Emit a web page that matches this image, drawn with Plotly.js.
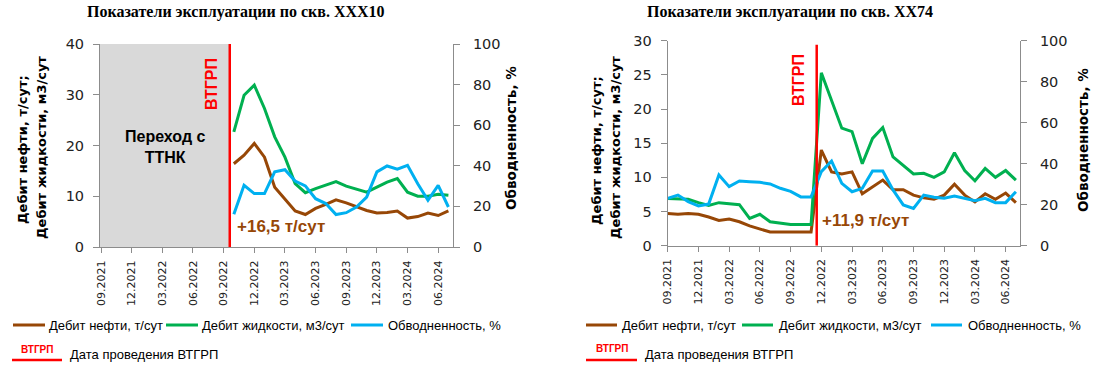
<!DOCTYPE html>
<html>
<head>
<meta charset="utf-8">
<script src="https://cdn.plot.ly/plotly-3.0.1.min.js"></script>
<style>html,body{margin:0;padding:0;background:#fff;}#chart{width:1094px;height:373px;}</style>
</head>
<body>
<div id="chart"></div>
<script>
// ---- Data ----
const months = ["09.2021","10.2021","11.2021","12.2021","01.2022","02.2022","03.2022","04.2022","05.2022","06.2022","07.2022","08.2022","09.2022","10.2022","11.2022","12.2022","01.2023","02.2023","03.2023","04.2023","05.2023","06.2023","07.2023","08.2023","09.2023","10.2023","11.2023","12.2023","01.2024","02.2024","03.2024","04.2024","05.2024","06.2024","07.2024"];
const tickLabels = ["09.2021","12.2021","03.2022","06.2022","09.2022","12.2022","03.2023","06.2023","09.2023","12.2023","03.2024","06.2024"];

// Well XXX10 (left)
const oilL = [null,null,null,null,null,null,null,null,null,null,null,null,null,
  16.4,18.1,20.4,17.7,11.8,9.5,7.1,6.4,7.6,8.4,9.3,8.7,7.9,7.2,6.7,6.8,7.1,5.7,6.0,6.7,6.2,7.1];
const liqL = [null,null,null,null,null,null,null,null,null,null,null,null,null,
  22.7,29.9,31.9,27.3,21.7,17.7,12.5,10.7,11.5,12.2,12.9,12.0,11.4,10.8,11.8,12.8,13.5,10.8,10.0,10.0,10.4,10.2];
const wcL = [null,null,null,null,null,null,null,null,null,null,null,null,null,
  16.1,30.4,26.3,26.3,37.0,38.1,32.5,30.1,23.8,21.4,16.0,16.9,19.7,24.6,37.0,39.9,38.3,40.2,31.2,23.0,30.4,19.7];

// Well XX74 (right)
const oilR = [4.7,4.6,4.7,4.6,4.2,3.7,3.9,3.5,2.9,2.5,2.0,2.0,2.0,2.0,2.0,
  14.0,10.8,10.5,10.8,7.6,8.6,9.6,8.2,8.2,7.4,7.0,6.8,7.4,9.0,7.4,6.4,7.6,6.8,7.7,6.3];
const liqR = [6.9,6.9,6.8,6.3,5.9,6.3,6.2,6.0,4.0,4.6,3.5,3.3,3.1,3.1,3.1,
  25.3,21.1,17.2,16.7,12.0,15.7,17.3,13.0,11.8,10.5,10.6,10.0,10.8,13.6,11.0,9.5,11.3,10.0,11.0,9.6];
const wcR = [23.1,24.7,21.5,19.4,20.3,34.5,28.8,31.6,31.2,30.9,30.1,28.0,26.5,23.8,23.8,
  36.1,41.3,30.4,26.3,28.0,36.4,36.4,27.2,19.9,18.2,24.7,23.6,23.1,24.2,23.1,22.0,23.1,21.0,21.0,26.3];

const eventL = 12.6;   // ВТГРП position (category index)
const eventR = 14.55;
const gainL = "+16,5 т/сут";
const gainR = "+11,9 т/сут";

// ---- Style ----
const W = 1094, H = 373;
const px = x => x / W, py = y => 1 - y / H;
const C_OIL = "#974706", C_LIQ = "#00B050", C_WC = "#00B0F0", C_RED = "#FF0000";
const AX = "#8C8C8C";
const FONT = "DejaVu Sans";

function tr(y, color, xa, ya, name) {
  return {x: months, y: y, type: "scatter", mode: "lines", name: name,
    line: {color: color, width: 3}, xaxis: xa, yaxis: ya, showlegend: false,
    connectgaps: false, hoverinfo: "skip"};
}
const data = [
  tr(oilL, C_OIL, "x", "y", "Дебит нефти, т/сут"),
  tr(liqL, C_LIQ, "x", "y", "Дебит жидкости, м3/сут"),
  tr(wcL, C_WC, "x", "y2", "Обводненность, %"),
  tr(oilR, C_OIL, "x2", "y3", "Дебит нефти, т/сут"),
  tr(liqR, C_LIQ, "x2", "y3", "Дебит жидкости, м3/сут"),
  tr(wcR, C_WC, "x2", "y4", "Обводненность, %")
];

function xax(domain, range, anchor) {
  return {domain: domain, anchor: anchor, type: "category", range: range,
    tickmode: "array", tickvals: tickLabels, ticktext: tickLabels, tickangle: -90,
    ticks: "outside", ticklen: 5, tickcolor: AX, showline: true, linecolor: AX, linewidth: 1,
    ticklabelstandoff: 3,
    showgrid: false, zeroline: false, tickfont: {family: FONT, size: 11, color: "#222"}, fixedrange: true};
}
function yax(domain, range, dtick, anchor, side, overlaying) {
  const a = {domain: domain, anchor: anchor, range: range, dtick: dtick, tick0: 0,
    ticks: "outside", ticklen: 6, tickcolor: AX, showline: true, linecolor: AX, linewidth: 1,
    ticklabelstandoff: side === "right" ? 10 : 6,
    showgrid: false, zeroline: false, side: side, tickfont: {family: FONT, size: 14.5, color: "#222"}, fixedrange: true};
  if (overlaying) a.overlaying = overlaying;
  return a;
}
const dL = [px(100), px(453)], dR = [px(667.7), px(1020)];
const yL = [py(247), py(44)], yR = [py(245.7), py(40.7)];

const layout = {
  width: W, height: H, margin: {l: 0, r: 0, t: 0, b: 0},
  paper_bgcolor: "#fff", plot_bgcolor: "rgba(0,0,0,0)", showlegend: false,
  font: {family: FONT, color: "#222"},
  xaxis: xax(dL, [-0.1, 34.45], "y"),
  yaxis: yax(yL, [0, 40], 10, "x", "left"),
  yaxis2: yax(yL, [0, 100], 20, "x", "right", "y"),
  xaxis2: xax(dR, [0, 34.4], "y3"),
  yaxis3: yax(yR, [0, 30], 5, "x2", "left"),
  yaxis4: yax(yR, [0, 100], 20, "x2", "right", "y3"),
  shapes: [
    {type: "rect", xref: "x", yref: "y", x0: -0.1, x1: eventL, y0: 0, y1: 40,
     fillcolor: "#D9D9D9", line: {width: 0}, layer: "below"},
    {type: "line", xref: "x", yref: "y", x0: eventL, x1: eventL, y0: 0, y1: 40, line: {color: C_RED, width: 2.5}},
    {type: "line", xref: "x2", yref: "y3", x0: eventR, x1: eventR, y0: 0, y1: 29.4, line: {color: C_RED, width: 2.5}},
    // legend samples left
    {type: "line", xref: "paper", yref: "paper", x0: px(13), x1: px(45), y0: py(325), y1: py(325), line: {color: C_OIL, width: 3}},
    {type: "line", xref: "paper", yref: "paper", x0: px(166), x1: px(198), y0: py(325), y1: py(325), line: {color: C_LIQ, width: 3}},
    {type: "line", xref: "paper", yref: "paper", x0: px(351), x1: px(383), y0: py(325), y1: py(325), line: {color: C_WC, width: 3}},
    {type: "line", xref: "paper", yref: "paper", x0: px(12), x1: px(62), y0: py(360), y1: py(360), line: {color: C_RED, width: 2.5}},
    // legend samples right
    {type: "line", xref: "paper", yref: "paper", x0: px(586), x1: px(617), y0: py(325), y1: py(325), line: {color: C_OIL, width: 3}},
    {type: "line", xref: "paper", yref: "paper", x0: px(742), x1: px(773), y0: py(325), y1: py(325), line: {color: C_LIQ, width: 3}},
    {type: "line", xref: "paper", yref: "paper", x0: px(931), x1: px(962), y0: py(325), y1: py(325), line: {color: C_WC, width: 3}},
    {type: "line", xref: "paper", yref: "paper", x0: px(586), x1: px(637), y0: py(360), y1: py(360), line: {color: C_RED, width: 2.5}}
  ],
  annotations: []
};

function ann(x, y, text, opts) {
  return Object.assign({xref: "paper", yref: "paper", x: px(x), y: py(y), text: text, showarrow: false,
    xanchor: "center", yanchor: "middle", font: {family: FONT, size: 12, color: "#000"}}, opts || {});
}
const A = layout.annotations;
// titles
A.push(ann(236, 12, "<b>Показатели эксплуатации по скв. XXX10</b>", {font: {family: "Liberation Serif", size: 16, color: "#000"}}));
A.push(ann(790, 12, "<b>Показатели эксплуатации по скв. XX74</b>", {font: {family: "Liberation Serif", size: 16, color: "#000"}}));
// axis titles left chart
A.push(ann(22, 150, "<b>Дебит нефти, т/сут;</b>", {textangle: -90, font: {family: FONT, size: 13, color: "#000"}}));
A.push(ann(41, 148, "<b>Дебит жидкости, м3/сут</b>", {textangle: -90, font: {family: FONT, size: 13, color: "#000"}}));
A.push(ann(511, 138, "<b>Обводненность, %</b>", {textangle: -90, font: {family: FONT, size: 13.5, color: "#000"}}));
// axis titles right chart
A.push(ann(596, 150, "<b>Дебит нефти, т/сут;</b>", {textangle: -90, font: {family: FONT, size: 13, color: "#000"}}));
A.push(ann(615, 148, "<b>Дебит жидкости, м3/сут</b>", {textangle: -90, font: {family: FONT, size: 13, color: "#000"}}));
A.push(ann(1083, 140, "<b>Обводненность, %</b>", {textangle: -90, font: {family: FONT, size: 13.5, color: "#000"}}));
// in-plot texts
A.push(ann(165, 147, "<b>Переход с<br>ТТНК</b>", {font: {family: "Liberation Sans", size: 16, color: "#000"}}));
A.push(ann(211, 84, "<b>ВТГРП</b>", {textangle: -90, font: {family: "Liberation Sans", size: 16, color: C_RED}}));
A.push(ann(798, 80, "<b>ВТГРП</b>", {textangle: -90, font: {family: "Liberation Sans", size: 16, color: C_RED}}));
A.push(ann(235, 227, "<b>" + gainL + "</b>", {xanchor: "left", font: {family: "Liberation Sans", size: 17, color: C_OIL}}));
A.push(ann(820, 221, "<b>" + gainR + "</b>", {xanchor: "left", font: {family: "Liberation Sans", size: 17, color: C_OIL}}));
// legend texts
const LF = {family: "Liberation Sans", size: 13, color: "#000"};
A.push(ann(47, 325, "Дебит нефти, т/сут", {xanchor: "left", font: LF}));
A.push(ann(200, 325, "Дебит жидкости, м3/сут", {xanchor: "left", font: LF}));
A.push(ann(386, 325, "Обводненность, %", {xanchor: "left", font: LF}));
A.push(ann(37, 349, "<b>ВТГРП</b>", {font: {family: "Liberation Sans", size: 10, color: C_RED}}));
A.push(ann(68, 354, "Дата проведения ВТГРП", {xanchor: "left", font: LF}));
A.push(ann(620, 325, "Дебит нефти, т/сут", {xanchor: "left", font: LF}));
A.push(ann(777, 325, "Дебит жидкости, м3/сут", {xanchor: "left", font: LF}));
A.push(ann(966, 325, "Обводненность, %", {xanchor: "left", font: LF}));
A.push(ann(612, 348, "<b>ВТГРП</b>", {font: {family: "Liberation Sans", size: 10, color: C_RED}}));
A.push(ann(643, 354, "Дата проведения ВТГРП", {xanchor: "left", font: LF}));

Plotly.newPlot("chart", data, layout, {staticPlot: true, displayModeBar: false});
</script>
</body>
</html>
